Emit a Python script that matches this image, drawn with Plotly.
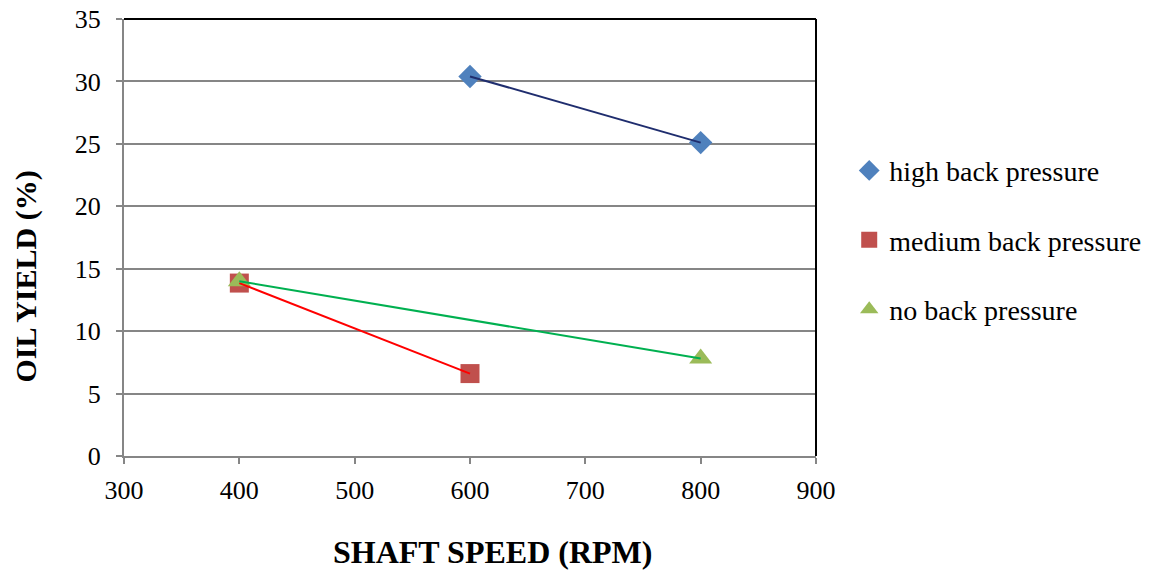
import plotly.graph_objects as go

speed_high = [600, 800]
yield_high = [30.4, 25.1]
speed_medium = [400, 600]
yield_medium = [13.85, 6.6]
speed_none = [400, 800]
yield_none = [14.0, 7.8]

series = [
    ("high back pressure", speed_high, yield_high, "diamond", "#4F81BD", "#1F2D6E", 18),
    ("medium back pressure", speed_medium, yield_medium, "square", "#C0504D", "#FF0000", 19),
    ("no back pressure", speed_none, yield_none, "triangle-up", "#9BBB59", "#00B050", 20),
]

font_family = "Liberation Serif, Times New Roman, serif"
fig = go.Figure()
for i, (name, xs, ys, sym, mcol, lcol, msize) in enumerate(series):
    fig.add_trace(go.Scatter(
        x=xs, y=ys, mode="markers", name=name, legendgroup=f"g{i}",
        marker=dict(symbol=sym, color=mcol, size=msize, line=dict(width=0)),
    ))
for i, (name, xs, ys, sym, mcol, lcol, msize) in enumerate(series):
    fig.add_trace(go.Scatter(
        x=xs, y=ys, mode="lines", name=name, showlegend=False,
        line=dict(color=lcol, width=2),
    ))

axis_common = dict(
    zeroline=False, showline=True, linecolor="#868686", linewidth=2,
    ticks="outside", ticklen=6, tickcolor="#868686", tickwidth=1.5,
    tickfont=dict(family=font_family, size=26, color="#000000"),
    ticklabeloverflow="allow", automargin=False,
)
fig.update_xaxes(range=[300, 900], dtick=100, tick0=300, showgrid=False,
                 ticklabelstandoff=4, **axis_common)
fig.update_yaxes(range=[0, 35], dtick=5, tick0=0, showgrid=True, gridcolor="#868686",
                 gridwidth=2, ticklabelstandoff=10, **axis_common)

fig.update_layout(
    width=1168, height=572,
    margin=dict(l=124, r=352, t=19, b=116, autoexpand=False),
    paper_bgcolor="white", plot_bgcolor="white",
    font=dict(family=font_family, size=28, color="#000000"),
    legend=dict(x=1.048, y=0.71, xanchor="left", yanchor="top",
                font=dict(family=font_family, size=28), tracegroupgap=30,
                itemsizing="trace", bgcolor="rgba(0,0,0,0)"),
    shapes=[
        dict(type="line", xref="paper", yref="paper", x0=0, x1=1, y0=1, y1=1,
             line=dict(color="#000000", width=2)),
        dict(type="line", xref="paper", yref="paper", x0=1, x1=1, y0=0, y1=1,
             line=dict(color="#000000", width=2)),
    ],
    annotations=[
        dict(text="<b>SHAFT SPEED (RPM)</b>", xref="paper", yref="paper",
             x=0.532, y=-0.22, xanchor="center", yanchor="middle", showarrow=False,
             font=dict(family=font_family, size=32)),
        dict(text="<b>OIL YIELD (%)</b>", xref="paper", yref="paper",
             x=-0.142, y=0.41, xanchor="center", yanchor="middle", showarrow=False,
             textangle=-90, font=dict(family=font_family, size=30)),
    ],
)

fig.write_html("out.html")
